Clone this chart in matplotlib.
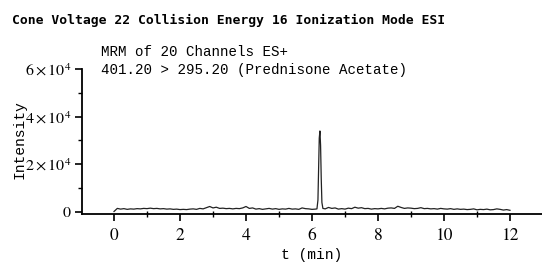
import numpy as np
import matplotlib
matplotlib.use("Agg")
import matplotlib.pyplot as plt
from matplotlib.ticker import FixedLocator, MultipleLocator

# ---- data ----
base_t = np.round(np.arange(0, 12.01, 0.1), 1)
base_i = [200, 1500, 1200, 1400, 1100, 1300, 1200, 1400, 1300, 1500,
          1400, 1600, 1400, 1500, 1300, 1400, 1200, 1300, 1100, 1200,
          1000, 1100, 1000, 1200, 1300, 1100, 1500, 1300, 1800, 2300,
          1700, 2000, 1500, 1600, 1400, 1500, 1300, 1500, 1400, 1700,
          2300, 1500, 1700, 1200, 1400, 1100, 1300, 1500, 1200, 1400,
          1100, 1300, 1200, 1500, 1200, 1300, 1100, 1700, 1400, 1300,
          1100, 1200, 1150, 1250, 1300, 1900, 1500, 1700, 1200, 1400,
          1200, 1600, 1400, 2000, 1600, 1800, 1400, 1500, 1200, 1400,
          1300, 1500, 1300, 1600, 1700, 1500, 2400, 1900, 1500, 1700,
          1600, 1400, 1500, 1800, 1400, 1500, 1300, 1400, 1200, 1500,
          1300, 1200, 1400, 1100, 1300, 1100, 1200, 1000, 1100, 1300,
          900, 1100, 1000, 1200, 900, 1000, 1300, 1100, 800, 1000, 700]
peak_t = [6.15, 6.18, 6.20, 6.22, 6.24, 6.26, 6.28, 6.30, 6.33]
peak_i = [1300, 5000, 18000, 31000, 34000, 28000, 14000, 4000, 1500]

x_ticks = [0, 2, 4, 6, 8, 10, 12]
y_ticks = [0, 20000, 40000, 60000]
y_labels = ["0", r"$2\times10^{4}$", r"$4\times10^{4}$", r"$6\times10^{4}$"]

title = "Cone Voltage 22 Collision Energy 16 Ionization Mode ESI"
ann1 = "MRM of 20 Channels ES+"
ann2 = "401.20 > 295.20 (Prednisone Acetate)"
xlab = "t (min)"
ylab = "Intensity"

# merge series
keep = [(t, v) for t, v in zip(base_t, base_i) if not (6.12 < t < 6.36)]
allpts = sorted(keep + list(zip(peak_t, peak_i)))
T = [p[0] for p in allpts]
I = [p[1] for p in allpts]

plt.rcParams['mathtext.fontset'] = 'stix'

W, H = 542, 264
fig = plt.figure(figsize=(W / 100, H / 100), dpi=100)
left, right, top, bottom = 82, 542, 69, 214
ax = fig.add_axes([left / W, 1 - bottom / H, (right - left) / W, (bottom - top) / H])
ax.plot(T, I, color='#222222', lw=0.9)
ax.set_xlim(-0.97, 12.97)
ax.set_ylim(-850, 60000)

for s in ['top', 'right']:
    ax.spines[s].set_visible(False)
for s in ['left', 'bottom']:
    ax.spines[s].set_linewidth(1.3)

ax.xaxis.set_major_locator(FixedLocator(x_ticks))
ax.xaxis.set_minor_locator(MultipleLocator(1))
ax.yaxis.set_major_locator(FixedLocator(y_ticks))
ax.yaxis.set_minor_locator(MultipleLocator(10000))
ax.set_yticklabels(y_labels)
ax.tick_params(axis='both', which='major', direction='out', length=5, width=1.2,
               labelsize=11.5, pad=3)
ax.tick_params(axis='x', which='minor', direction='inout', length=5, width=1.0)
ax.tick_params(axis='y', which='minor', direction='out', length=3, width=1.0)
for lbl in ax.get_xticklabels() + ax.get_yticklabels():
    lbl.set_fontfamily('STIXGeneral')
ax.tick_params(axis='x', labelsize=12.5, pad=5)

mono = 'Liberation Mono'
ax.set_xlabel(xlab, fontfamily=mono, fontsize=10.5, labelpad=3)
ax.set_ylabel(ylab, fontfamily=mono, fontsize=10.5)
ax.yaxis.set_label_coords((26 - left) / (right - left), 0.51)

fig.text(12 / W, 1 - 20 / H, title, fontfamily='DejaVu Sans Mono', fontweight='bold',
         fontsize=9.4, va='center', ha='left')
fig.text(101 / W, 1 - 52 / H, ann1, fontfamily=mono, fontsize=10.2, va='center', ha='left')
fig.text(101 / W, 1 - 70 / H, ann2, fontfamily=mono, fontsize=10.2, va='center', ha='left')

fig.savefig('out.png', dpi=100)
